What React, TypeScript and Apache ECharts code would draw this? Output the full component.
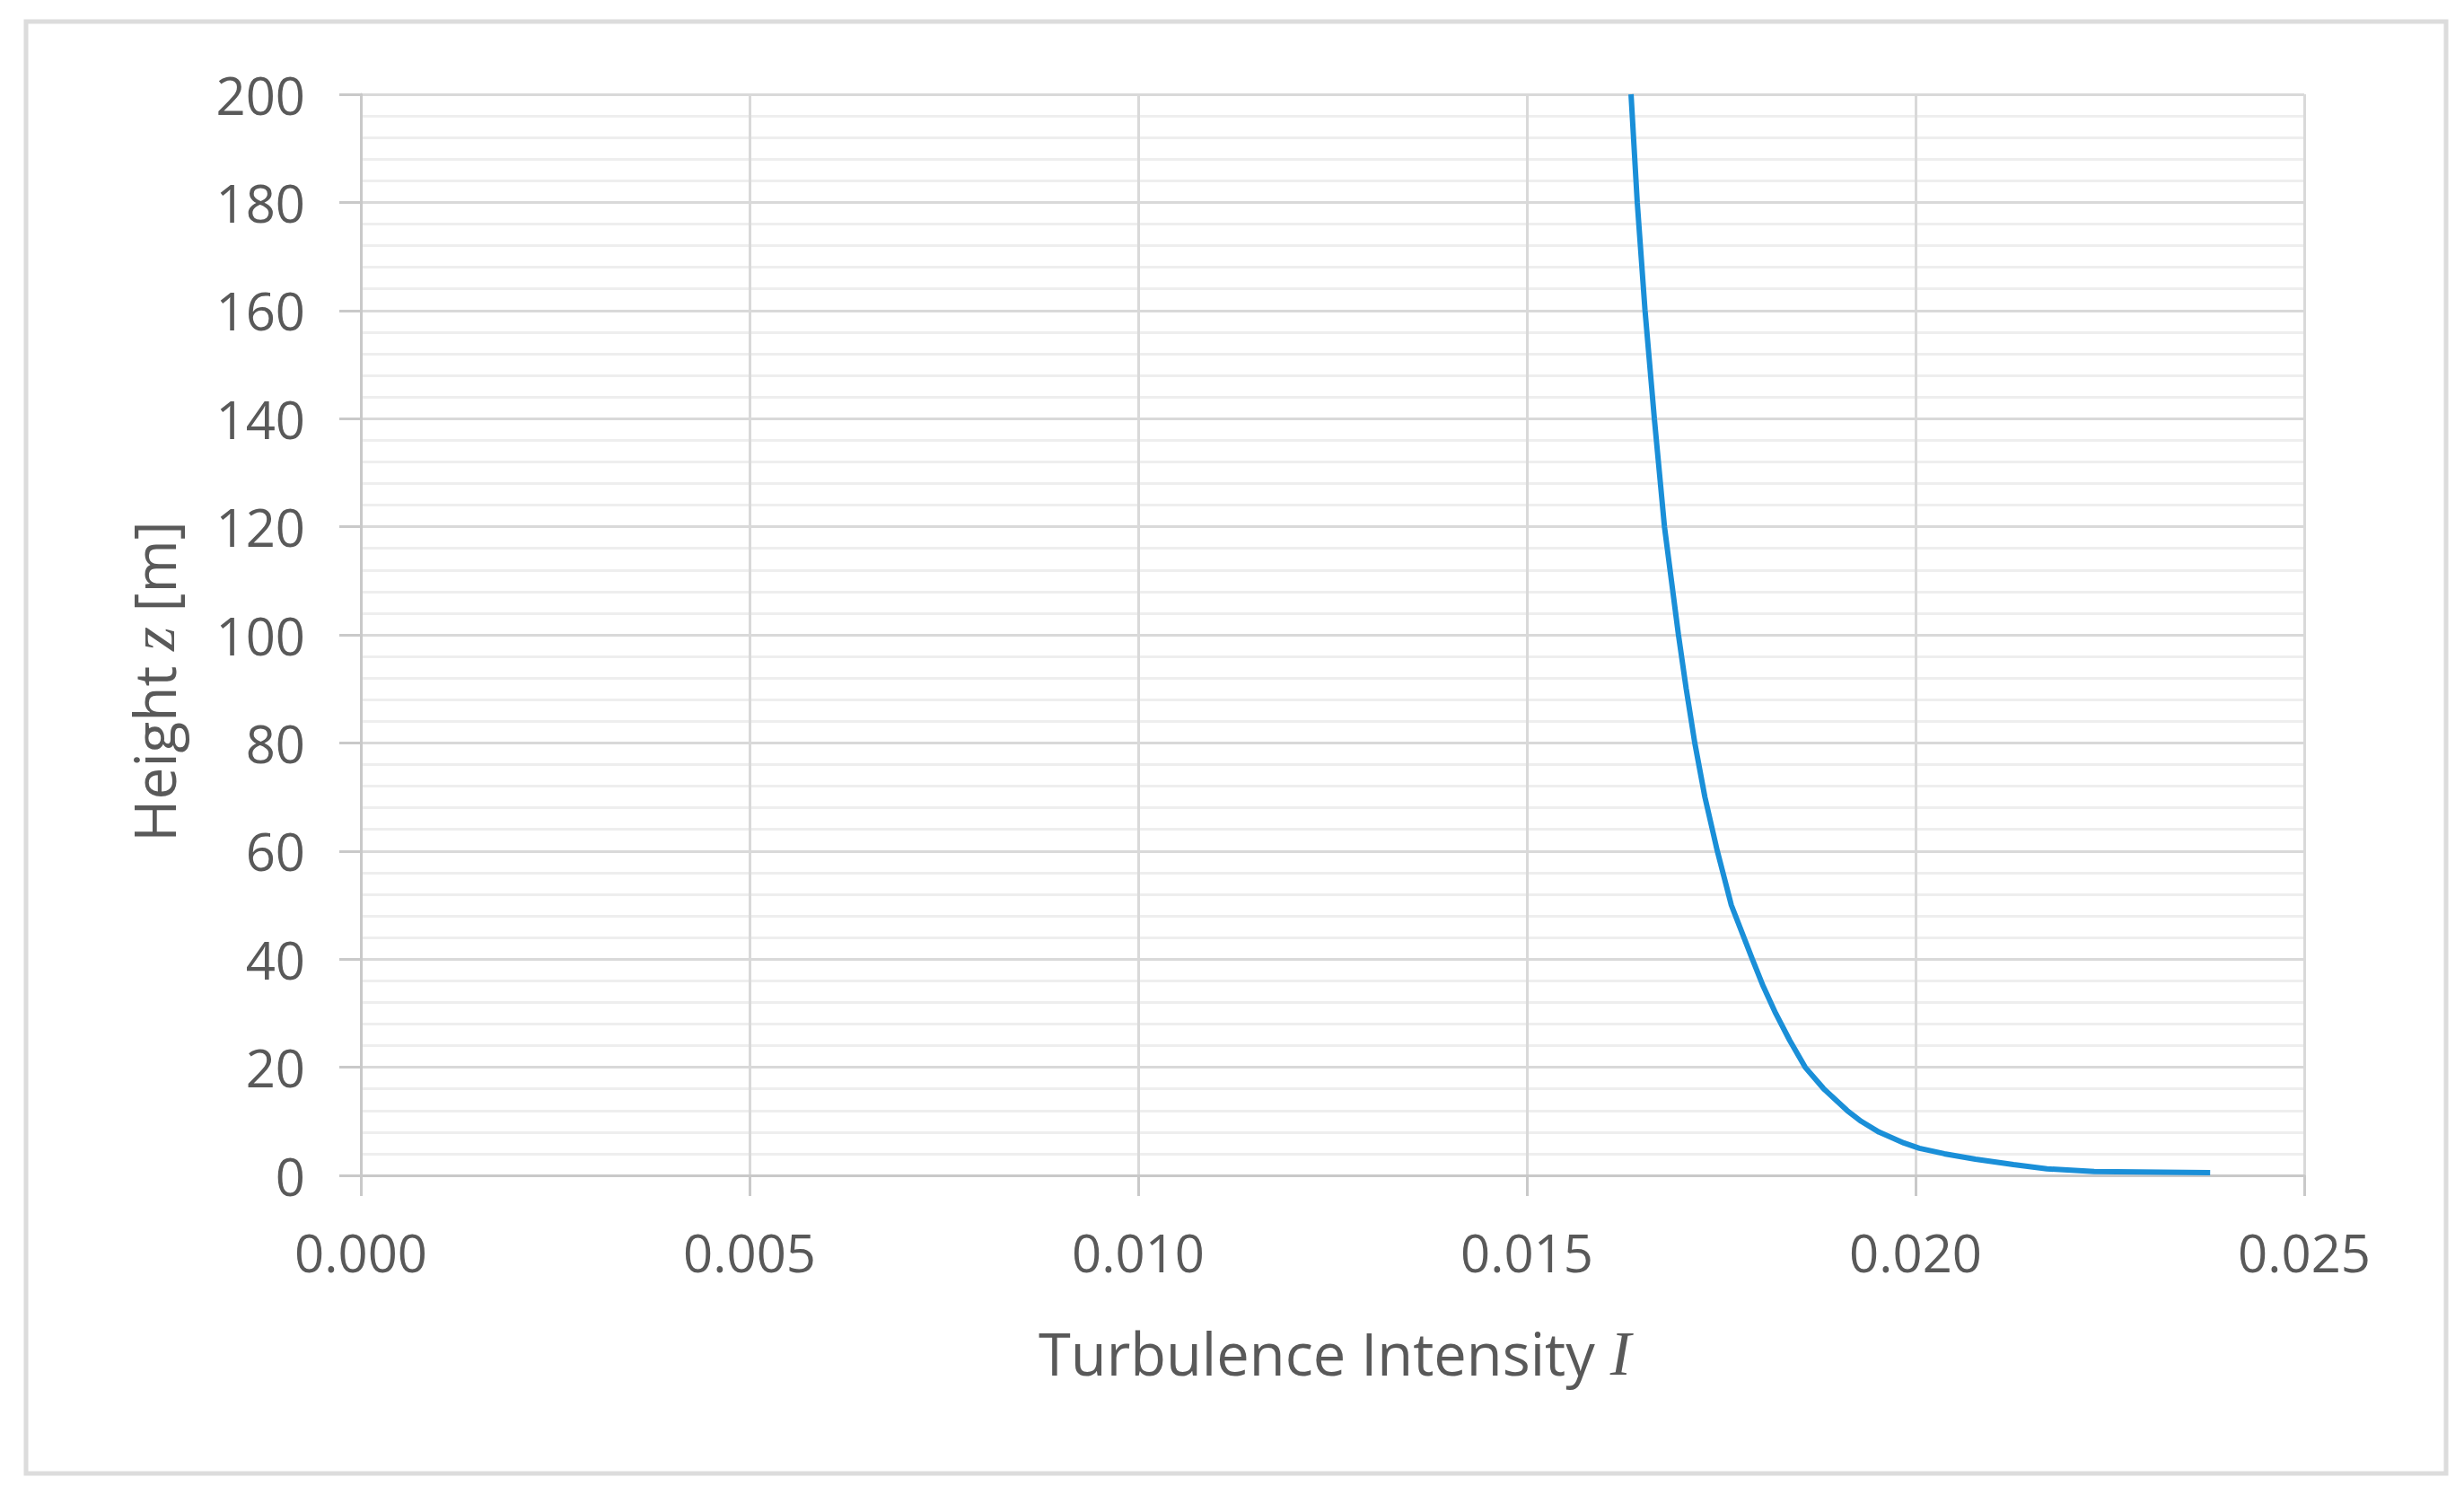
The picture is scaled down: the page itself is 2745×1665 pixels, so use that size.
import React, { useEffect, useRef } from "react";
import * as echarts from "echarts";

// Heights z [m]
const heights: number[] = [
  200, 180, 160, 140, 120, 100, 90, 80, 70, 60, 50, 40, 35, 30, 25, 20, 16, 12, 10, 8, 6, 5, 4, 3, 2, 1.2, 0.7, 0.5,
];
// Turbulence intensity I at each height
const intensity: number[] = [
  0.01634, 0.01642, 0.01652, 0.01664, 0.01677, 0.01695, 0.01705, 0.01716, 0.01729, 0.01745, 0.01763, 0.0179,
  0.01804, 0.0182, 0.01838, 0.01858, 0.01882, 0.01912, 0.0193, 0.01953, 0.01985, 0.02005, 0.02037, 0.02077,
  0.02126, 0.02169, 0.0223, 0.02379,
];
const xTicks: number[] = [0, 0.005, 0.01, 0.015, 0.02, 0.025];
const yTicks: number[] = [0, 20, 40, 60, 80, 100, 120, 140, 160, 180, 200];

const TEXT = "#595959";
const FONT = "'Open Sans', 'Noto Sans', sans-serif";

export default function App() {
  const ref = useRef<HTMLDivElement>(null);
  useEffect(() => {
    if (!ref.current) return;
    const chart = echarts.init(ref.current, null, { renderer: "svg" });
    const data = heights.map((z, i) => [intensity[i], z]);
    chart.setOption({
      animation: false,
      backgroundColor: "#ffffff",
      grid: { left: 402, top: 105, width: 2165, height: 1204, containLabel: false },
      xAxis: {
        type: "value",
        min: xTicks[0],
        max: xTicks[xTicks.length - 1],
        interval: 0.005,
        axisLine: { show: true, lineStyle: { color: "#c9c9c9", width: 3 } },
        axisTick: { show: true, inside: false, length: 23, lineStyle: { color: "#c9c9c9", width: 3 } },
        axisLabel: {
          color: TEXT,
          fontFamily: FONT,
          fontSize: 58,
          margin: 56,
          formatter: (v: number) => v.toFixed(3),
        },
        splitLine: { show: true, lineStyle: { color: "#d9d9d9", width: 3 } },
      },
      yAxis: {
        type: "value",
        min: yTicks[0],
        max: yTicks[yTicks.length - 1],
        interval: 20,
        axisLine: { show: true, lineStyle: { color: "#c9c9c9", width: 3 } },
        axisTick: { show: true, inside: false, length: 24, lineStyle: { color: "#c9c9c9", width: 3 } },
        minorTick: { show: false, splitNumber: 5 },
        minorSplitLine: { show: true, lineStyle: { color: "#eeeeee", width: 3 } },
        axisLabel: { color: TEXT, fontFamily: FONT, fontSize: 58, margin: 62 },
        splitLine: { show: true, lineStyle: { color: "#d9d9d9", width: 3 } },
      },
      graphic: [
        {
          type: "rect",
          shape: { x: 29, y: 24, width: 2696, height: 1617 },
          style: { fill: "none", stroke: "#dcdcdc", lineWidth: 5 },
          z: 100,
        },
        {
          type: "text",
          x: 1487,
          y: 1507,
          style: {
            text: "{a|Turbulence Intensity }{b|I}",
            align: "center",
            verticalAlign: "middle",
            rich: {
              a: { fontFamily: FONT, fontSize: 65, fill: TEXT, color: TEXT },
              b: { fontFamily: "'Liberation Serif', serif", fontStyle: "italic", fontSize: 70, fill: TEXT, color: TEXT },
            },
          },
        },
        {
          type: "text",
          x: 171,
          y: 759,
          rotation: Math.PI / 2,
          style: {
            text: "{a|Height }{b|z}{a| [m]}",
            align: "center",
            verticalAlign: "middle",
            rich: {
              a: { fontFamily: FONT, fontSize: 64, fill: TEXT, color: TEXT },
              b: { fontFamily: "'Liberation Serif', serif", fontStyle: "italic", fontSize: 69, fill: TEXT, color: TEXT },
            },
          },
        },
      ],
      series: [
        {
          type: "line",
          data,
          showSymbol: false,
          smooth: false,
          lineStyle: { color: "#1a8fd8", width: 6 },
          itemStyle: { color: "#1a8fd8" },
          clip: false,
        },
      ],
    });
    return () => chart.dispose();
  }, []);
  return <div ref={ref} style={{ position: "absolute", left: 0, top: 0, width: 2745, height: 1665 }} />;
}
